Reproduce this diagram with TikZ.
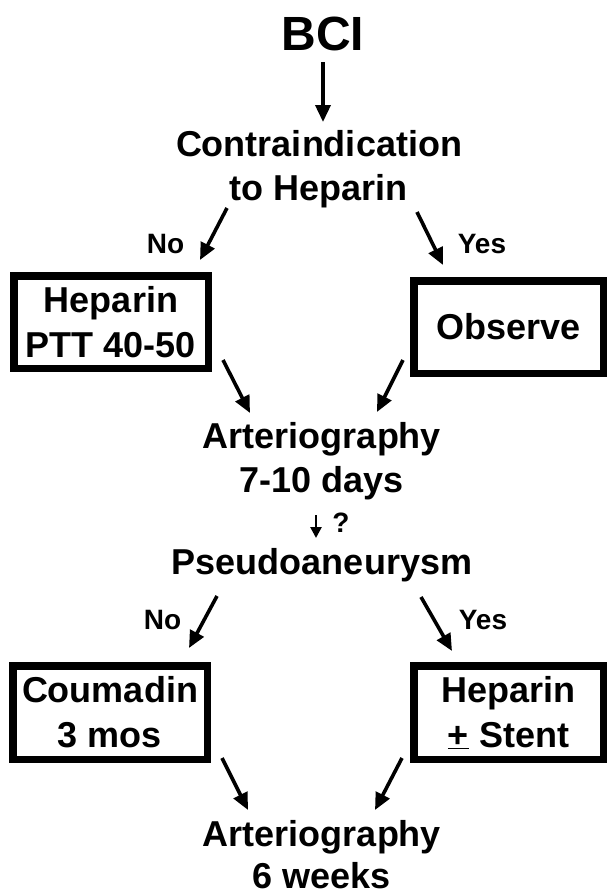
\documentclass[tikz,border=0pt]{standalone}
\usepackage{fontspec}
\setmainfont{Liberation Sans}
\usetikzlibrary{arrows.meta}

\begin{document}
\begin{tikzpicture}[x=1pt, y=-1pt,
	txt/.style={font=\fontsize{36}{44}\selectfont\bfseries, align=center, inner sep=0pt, anchor=base},
	lbl/.style={font=\fontsize{28}{34}\selectfont\bfseries, inner sep=0pt},
	box/.style={draw, line width=7.5pt, font=\fontsize{36}{45}\selectfont\bfseries, align=center, inner sep=0pt, minimum width=194.5pt, minimum height=92.5pt},
	arr/.style={-{Triangle[length=17pt,width=15pt]}, line width=3.6pt}]
\useasboundingbox (0,0) rectangle (606,895);

% base of a two-line node is the baseline of its last line
\node[txt, font=\fontsize{48}{56}\selectfont\bfseries] (bci) at (323,50) {BCI};
\node[txt] (contra) at (319,200) {Contraindication\\to Heparin};
\node[box] (hep) at (111,322) {Heparin\\PTT 40-50};
\node[box, minimum width=189.5pt] (obs) at (508.5,327) {Observe};
\node[txt] (art1) at (322,492) {Arteriography\\7-10 days};
\node[txt] (pseudo) at (322,574) {Pseudoaneurysm};
\node[box, minimum height=93.5pt] (coum) at (110,712.5) {Coumadin\\3 mos};
\node[box, minimum width=189.5pt, minimum height=93.5pt] (hst) at (508.5,712.5) {Heparin\\\underline{+} Stent};
\node[txt, font=\fontsize{36}{42}\selectfont\bfseries] (art2) at (322,888) {Arteriography\\6 weeks};

\path[arr]
([shift={(0,12)}]bci.base) edge ([shift={(4,-78)}]contra.base)
([shift={(-92,8)}]contra.base) edge node[lbl, left=27.5pt, yshift=-10pt] {No} ([shift={(89,-62)}]hep.center)
([shift={(98,12)}]contra.base) edge node[lbl, right=26pt, yshift=-5.5pt] {Yes} ([shift={(-65.5,-62)}]obs.center)
([shift={(112,38)}]hep.center) edge ([shift={(-72,-79)}]art1.base)
([shift={(-105.5,33)}]obs.center) edge ([shift={(55,-80)}]art1.base)
([shift={(-6,23)}]art1.base) edge[-{Triangle[length=11pt,width=11pt]}, line width=2.6pt] node[lbl, right=15pt, yshift=4pt] {?} ([shift={(-6,-36)}]pseudo.base)
([shift={(-105,22)}]pseudo.base) edge node[lbl, left=20pt, yshift=2pt] {No} ([shift={(79,-64.5)}]coum.center)
([shift={(99,23)}]pseudo.base) edge node[lbl, right=20.5pt, yshift=4pt] {Yes} ([shift={(-56.5,-61.5)}]hst.center)
([shift={(112,45.5)}]coum.center) edge ([shift={(-74,-78)}]art2.base)
([shift={(-106.5,45.5)}]hst.center) edge ([shift={(53,-78)}]art2.base)
;
\end{tikzpicture}
\end{document}
